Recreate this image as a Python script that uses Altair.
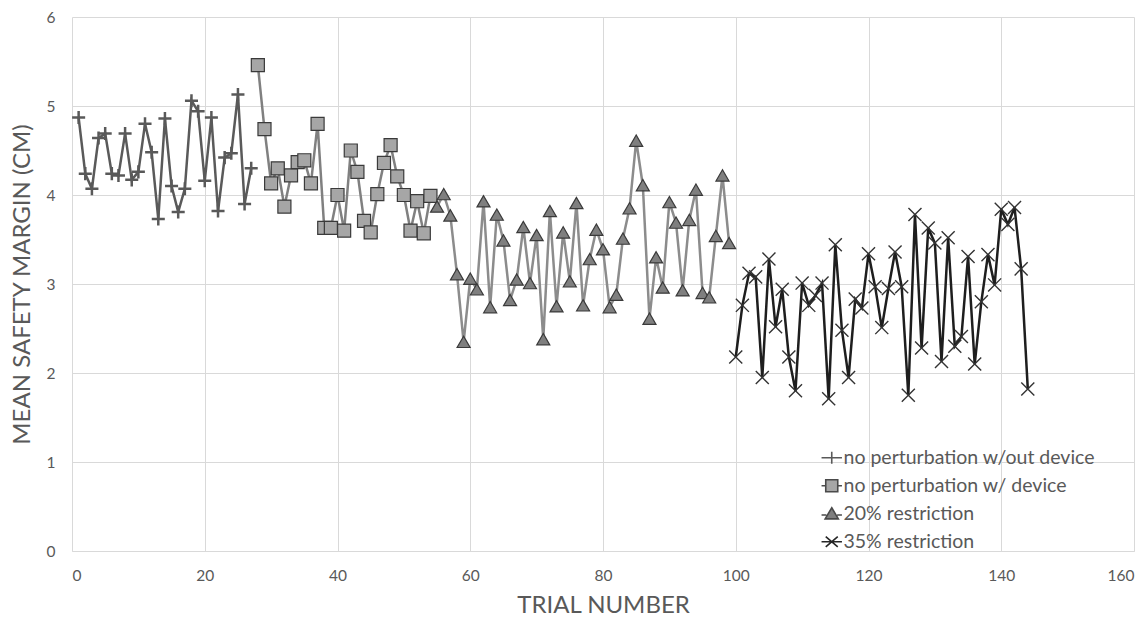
import altair as alt
import pandas as pd

names = ["no perturbation w/out device", "no perturbation w/ device",
         "20% restriction", "35% restriction"]

trials_1 = list(range(1, 28))
margin_1 = [4.87, 4.24, 4.07, 4.64, 4.69, 4.24, 4.22, 4.69, 4.17, 4.26, 4.80, 4.48,
            3.73, 4.86, 4.10, 3.81, 4.07, 5.06, 4.94, 4.16, 4.87, 3.82, 4.42, 4.47,
            5.13, 3.90, 4.30]

trials_2 = list(range(28, 55))
margin_2 = [5.46, 4.74, 4.13, 4.30, 3.87, 4.22, 4.37, 4.39, 4.13, 4.80, 3.63, 3.63,
            4.00, 3.60, 4.50, 4.26, 3.71, 3.58, 4.01, 4.36, 4.56, 4.21, 4.00, 3.60,
            3.93, 3.57, 3.99]

trials_3 = list(range(55, 100))
margin_3 = [3.87, 4.01, 3.77, 3.11, 2.35, 3.06, 2.94, 3.93, 2.74, 3.78, 3.49, 2.82,
            3.05, 3.64, 3.01, 3.55, 2.38, 3.82, 2.75, 3.58, 3.03, 3.91, 2.76, 3.28,
            3.61, 3.39, 2.74, 2.88, 3.51, 3.85, 4.61, 4.11, 2.61, 3.30, 2.96, 3.92,
            3.69, 2.93, 3.72, 4.06, 2.90, 2.85, 3.54, 4.22, 3.46]

trials_4 = list(range(100, 145))
margin_4 = [2.18, 2.76, 3.12, 3.08, 1.95, 3.28, 2.52, 2.94, 2.18, 1.80, 3.01, 2.76,
            2.87, 3.01, 1.71, 3.44, 2.48, 1.95, 2.83, 2.73, 3.34, 2.97, 2.51, 2.95,
            3.36, 2.97, 1.75, 3.78, 2.28, 3.63, 3.46, 2.13, 3.52, 2.30, 2.41, 3.31,
            2.10, 2.80, 3.33, 2.99, 3.84, 3.67, 3.86, 3.17, 1.82]

x_ticks = [0, 20, 40, 60, 80, 100, 120, 140, 160]
y_ticks = [0, 1, 2, 3, 4, 5, 6]

rows = []
for name, xs, ys in zip(names, [trials_1, trials_2, trials_3, trials_4],
                        [margin_1, margin_2, margin_3, margin_4]):
    for xv, yv in zip(xs, ys):
        rows.append({"series": name, "trial": xv, "margin": yv})
df = pd.DataFrame(rows)

line_colors = ["#5a5a5a", "#808080", "#8c8c8c", "#1e1e1e"]
marker_shapes = ["M-1,0H1M0,-1V1", "square", "triangle-up", "M-1,-1L1,1M-1,1L1,-1"]
marker_fills = ["transparent", "#a6a6a6", "#7f7f7f", "transparent"]
marker_strokes = ["#595959", "#3a3a3a", "#3a3a3a", "#333333"]
marker_widths = [2.5, 1.2, 1.2, 1.4]

legend_paths = [
    "M-1.7,0H1.7M0,-1V1",
    "M-1.7,0H-1M1,0H1.7M-1,-1H1V1H-1Z",
    "M-1.7,0.2H-0.9M0.9,0.2H1.7M0,-1L1.1,0.85H-1.1Z",
    "M-1.7,0H1.7M-1,-0.85L1,0.85M-1,0.85L1,-0.85",
]
legend_strokes = ["#595959", "#4a4a4a", "#4a4a4a", "#262626"]

legend = alt.Legend(
    title=None, orient="none", legendX=750, legendY=431, padding=0,
    labelFont="Lato", labelFontSize=19.5, labelColor="#595959", labelLimit=400,
    symbolSize=144, symbolStrokeWidth=1.6, rowPadding=7, labelOffset=2,
)

x = alt.X("trial:Q", scale=alt.Scale(domain=[0, 160], nice=False),
          axis=alt.Axis(values=x_ticks, title="TRIAL NUMBER", labelPadding=24,
                        labelBaseline="middle", titleY=54, titleBaseline="middle"))
y = alt.Y("margin:Q", scale=alt.Scale(domain=[0, 6], nice=False),
          axis=alt.Axis(values=y_ticks, title="MEAN SAFETY MARGIN (CM)", labelPadding=17,
                        titleX=-50, titleY=267, titleBaseline="middle", titleAlign="center",
                        domain=False))

lines = alt.Chart(df).mark_line(strokeWidth=2.5).encode(
    x=x, y=y,
    color=alt.Color("series:N", scale=alt.Scale(domain=names, range=line_colors), legend=None),
)

points = alt.Chart(df).mark_point(filled=True, opacity=1, size=170).encode(
    x=x, y=y,
    shape=alt.Shape("series:N", scale=alt.Scale(domain=names, range=marker_shapes), legend=None),
    fill=alt.Fill("series:N", scale=alt.Scale(domain=names, range=marker_fills), legend=None),
    stroke=alt.Stroke("series:N", scale=alt.Scale(domain=names, range=marker_strokes), legend=None),
    strokeWidth=alt.StrokeWidth("series:N", scale=alt.Scale(type="ordinal", domain=names, range=marker_widths), legend=None),
)

legend_layer = alt.Chart(df).transform_filter("false").mark_point(
    filled=True, opacity=1, strokeWidth=1.6
).encode(
    x=x, y=y,
    shape=alt.Shape("series:N", scale=alt.Scale(domain=names, range=legend_paths), legend=legend),
    fill=alt.Fill("series:N", scale=alt.Scale(domain=names, range=marker_fills), legend=legend),
    stroke=alt.Stroke("series:N", scale=alt.Scale(domain=names, range=legend_strokes), legend=legend),
)

chart = alt.layer(lines, points, legend_layer).resolve_scale(
    shape="independent", fill="independent", stroke="independent"
).properties(
    width=1062, height=534,
    padding={"left": 72, "top": 17, "right": 14, "bottom": 66},
    autosize=alt.AutoSizeParams(type="none"),
    background="white",
).configure_view(stroke=None).configure_axis(
    gridColor="#d9d9d9", gridWidth=1, domainColor="#d9d9d9", domainWidth=1,
    labelColor="#595959", titleColor="#595959", labelFont="Lato", titleFont="Lato",
    labelFontSize=15.5, titleFontSize=24, titleFontWeight="normal",
    ticks=False, tickSize=0,
)

chart.save("out.html", embed_options={"renderer": "svg", "actions": False})
